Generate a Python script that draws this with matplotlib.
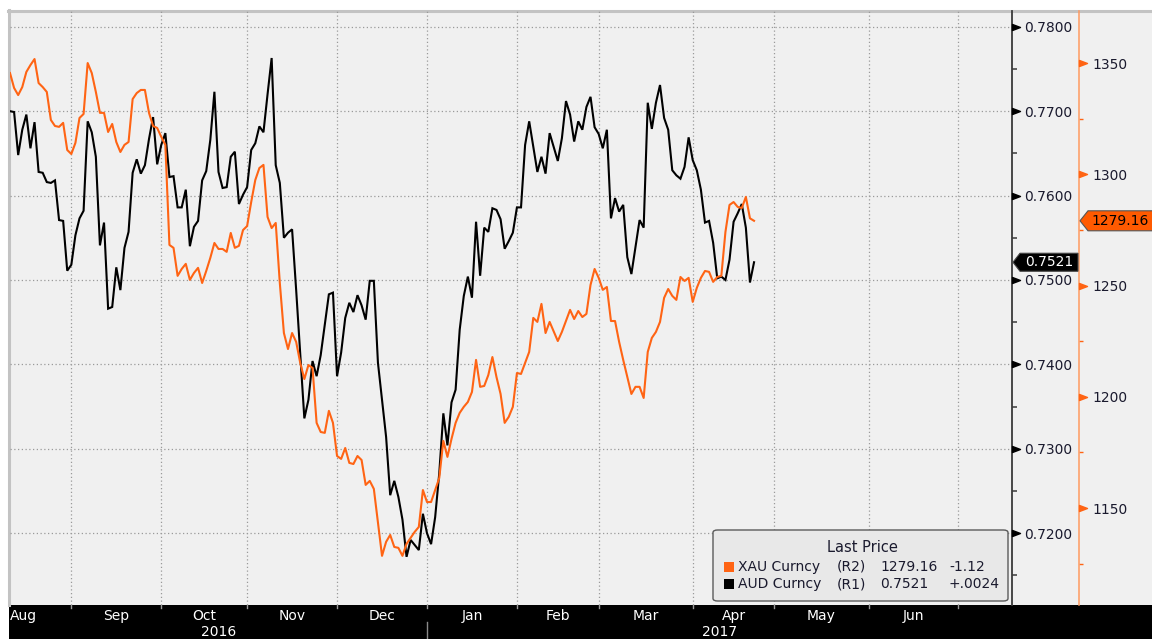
import numpy as np
import matplotlib
matplotlib.use("Agg")
import matplotlib.pyplot as plt
from matplotlib.patches import Rectangle, Polygon, FancyBboxPatch
from matplotlib.lines import Line2D
from matplotlib.path import Path
from matplotlib.transforms import blended_transform_factory

# ---------------- data ----------------
START = "2016-08-11"          # business-day index 0
AXIS_END = "2017-07-20"       # right edge of the time axis

# AUD Curncy (R1) - business-day index from START and close values
aud_day = (list(range(0, 71)) + list(range(72, 77)) +
           list(range(78, 133)) + list(range(134, 183)))
aud_val = [
    0.7700, 0.7699, 0.7648, 0.7678, 0.7696, 0.7656, 0.7687, 0.7628, 0.7627, 0.7616,
    0.7615, 0.7618, 0.7571, 0.7570, 0.7511, 0.7518, 0.7553, 0.7573, 0.7582, 0.7688,
    0.7675, 0.7646, 0.7541, 0.7568, 0.7466, 0.7468, 0.7515, 0.7488, 0.7538, 0.7557,
    0.7627, 0.7643, 0.7626, 0.7636, 0.7667, 0.7693, 0.7637, 0.7660, 0.7674, 0.7622,
    0.7623, 0.7586, 0.7586, 0.7607, 0.7540, 0.7563, 0.7570, 0.7618, 0.7629, 0.7666,
    0.7723, 0.7628, 0.7609, 0.7610, 0.7646, 0.7652, 0.7590, 0.7601, 0.7610, 0.7654,
    0.7662, 0.7682, 0.7675, 0.7720, 0.7763, 0.7636, 0.7615, 0.7550, 0.7556, 0.7560,
    0.7488,
    0.7336, 0.7358, 0.7404, 0.7386, 0.7411,
    0.7483, 0.7485, 0.7386, 0.7414, 0.7455, 0.7473, 0.7462, 0.7482, 0.7470, 0.7453,
    0.7499, 0.7499, 0.7402, 0.7358, 0.7314, 0.7245, 0.7262, 0.7243, 0.7216, 0.7172,
    0.7192, 0.7186, 0.7180, 0.7223, 0.7200, 0.7187, 0.7219, 0.7271, 0.7342, 0.7304,
    0.7355, 0.7370, 0.7441, 0.7481, 0.7504, 0.7479, 0.7569, 0.7505, 0.7562, 0.7557,
    0.7585, 0.7583, 0.7572, 0.7537, 0.7546, 0.7556, 0.7586, 0.7586, 0.7660, 0.7688,
    0.7658, 0.7628, 0.7646, 0.7626, 0.7674,
    0.7641, 0.7668, 0.7712, 0.7696, 0.7664, 0.7688, 0.7678, 0.7705, 0.7717, 0.7681,
    0.7673, 0.7656, 0.7678, 0.7573, 0.7597, 0.7581, 0.7589, 0.7527, 0.7507, 0.7539,
    0.7571, 0.7562, 0.7710, 0.7679, 0.7710, 0.7731, 0.7692, 0.7678, 0.7630, 0.7624,
    0.7620, 0.7634, 0.7669, 0.7642, 0.7630, 0.7607, 0.7568, 0.7570, 0.7544, 0.7502,
    0.7504, 0.7500, 0.7524, 0.7569, 0.7579, 0.7590, 0.7562, 0.7497, 0.7521,
]

# XAU Curncy (R2)
xau_day = list(range(0, 133)) + list(range(134, 183))
xau_val = [
    1345.6, 1338.9, 1335.7, 1339.3, 1346.1, 1349.2, 1351.9, 1341.1, 1339.3, 1337.1,
    1324.5, 1321.8, 1321.4, 1323.2, 1311.0, 1309.2, 1314.2, 1325.4, 1327.2, 1350.1,
    1345.6, 1337.1, 1327.7, 1327.7, 1319.1, 1322.7, 1314.6, 1310.1, 1313.3, 1314.6,
    1333.9, 1336.6, 1338.0, 1338.0, 1327.7, 1321.8, 1320.9, 1316.9, 1313.3, 1268.3,
    1267.0, 1254.4, 1257.5, 1259.8, 1252.6, 1255.7, 1258.0, 1251.2, 1256.6, 1262.5,
    1269.2, 1266.5, 1266.5, 1265.2, 1273.7, 1267.0, 1267.9, 1275.0, 1276.8, 1287.6,
    1297.5, 1302.9, 1304.3, 1280.9, 1275.9, 1278.2, 1251.2, 1228.7, 1221.5, 1228.7,
    1224.7, 1215.2, 1208.0, 1214.3, 1213.0, 1188.3, 1184.2, 1183.8, 1193.7, 1188.3,
    1173.4, 1172.1, 1177.0, 1170.3, 1169.8, 1173.4, 1171.6, 1160.4, 1162.2, 1158.6,
    1143.7, 1128.5, 1134.8, 1137.9, 1132.5, 1132.1, 1128.5, 1133.9, 1136.6, 1139.3,
    1141.5, 1158.1, 1152.7, 1152.7, 1158.1, 1163.5, 1180.2, 1173.0, 1181.1, 1188.3,
    1192.8, 1195.5, 1197.7, 1202.2, 1216.6, 1204.5, 1204.9, 1209.8, 1217.9, 1208.9,
    1201.3, 1188.3, 1191.0, 1195.5, 1210.7, 1210.3, 1215.2, 1220.2, 1235.5, 1233.7,
    1241.8, 1228.7, 1233.7,
    1225.1, 1229.2, 1234.1, 1239.1, 1235.0, 1238.6, 1235.9,
    1237.3, 1250.3, 1257.5, 1253.5, 1248.1, 1249.4, 1234.1, 1234.1, 1224.7, 1216.6,
    1208.9, 1201.3, 1204.5, 1204.5, 1199.5, 1220.2, 1226.5, 1229.2, 1233.7, 1244.5,
    1248.5, 1245.4, 1243.6, 1253.9, 1252.1, 1253.5, 1242.7, 1249.0, 1253.5, 1256.6,
    1256.2, 1251.7, 1253.9, 1254.4, 1274.1, 1286.3, 1287.6, 1285.4, 1284.9, 1289.9,
    1280.28, 1279.16,
]

months = ["2016-08", "2016-09", "2016-10", "2016-11", "2016-12", "2017-01",
          "2017-02", "2017-03", "2017-04", "2017-05", "2017-06", "2017-07"]
month_labels = ["Aug", "Sep", "Oct", "Nov", "Dec", "Jan", "Feb", "Mar", "Apr", "May", "Jun"]
years = ["2016", "2017"]

aud_ticks = [0.7200, 0.7300, 0.7400, 0.7500, 0.7600, 0.7700, 0.7800]
aud_minor = [0.7150, 0.7250, 0.7350, 0.7450, 0.7550, 0.7650, 0.7750]
xau_ticks = [1150, 1200, 1250, 1300, 1350]
xau_minor = [1125, 1175, 1225, 1275, 1325]
aud_lim = (0.71149, 0.78187)
xau_lim = (1106.4, 1373.5)

# ---------------- style ----------------
ORANGE = "#ff6414"
TXT = "#1a1a2e"
GRID = "#9a9a9a"
plt.rcParams["font.family"] = ["DejaVu Sans"]

W, H = 1152, 639
fig = plt.figure(figsize=(W / 100, H / 100), dpi=100)
fig.patch.set_facecolor("white")


def fx(x):
    return x / W


def fy(y):
    return 1 - y / H


# backgrounds
fig.patches.append(Rectangle((fx(9), fy(605)), 1 - fx(9), fy(11) - fy(605),
                             transform=fig.transFigure, facecolor="#f0f0f0",
                             edgecolor="none", zorder=-2))
fig.patches.append(Rectangle((fx(9), 0), 1 - fx(9), fy(605),
                             transform=fig.transFigure, facecolor="black",
                             edgecolor="none", zorder=-2))
fig.add_artist(Line2D([fx(8), 1], [fy(11), fy(11)], color="#c3c3c3", lw=2.2,
                      transform=fig.transFigure, zorder=-1))
fig.add_artist(Line2D([fx(9), fx(9)], [fy(10), fy(605)], color="#c3c3c3", lw=2.2,
                      transform=fig.transFigure, zorder=-1))

ax = fig.add_axes([fx(10), fy(605), fx(1012) - fx(10), fy(11) - fy(605)])
ax.patch.set_visible(False)
ax2 = ax.twinx()
ax2.patch.set_visible(False)

# x scale: business-day index
month_idx = [int(np.busday_count(START, m + "-01")) for m in months]
x_end = float(np.busday_count(START, AXIS_END))
ax.set_xlim(0, x_end + 0.1)

ax.plot(aud_day, aud_val, color="black", lw=1.5, solid_joinstyle="miter", zorder=3)
ax2.plot(xau_day, xau_val, color=ORANGE, lw=1.5, zorder=3)

ax.set_ylim(*aud_lim)
ax2.set_ylim(*xau_lim)

for a in (ax, ax2):
    for s in ("top", "bottom", "left"):
        a.spines[s].set_visible(False)
ax.spines["right"].set_color("#3a3a3a")
ax.spines["right"].set_linewidth(1.3)
ax2.spines["right"].set_position(("outward", 67 * 0.72))
ax2.spines["right"].set_color("#ff9a60")
ax2.spines["right"].set_linewidth(1.1)

# grid
ax.set_xticks(month_idx[1:])
ax.tick_params(axis="x", length=0, labelbottom=False)
ax.set_yticks(aud_ticks)
ax.set_yticklabels([f"{v:.4f}" for v in aud_ticks])
ax.set_yticks(aud_minor, minor=True)
ax.grid(True, which="major", color=GRID, ls=(0, (1, 2)), lw=0.9)
ax.yaxis.tick_right()
ax.tick_params(axis="y", which="major", length=0, pad=8.8, labelsize=10, labelcolor=TXT)
ax.tick_params(axis="y", which="minor", length=3.8, width=1.1, color="#3a3a3a", direction="out")

ax2.set_yticks(xau_ticks)
ax2.set_yticklabels([f"{v:d}" for v in xau_ticks])
ax2.set_yticks(xau_minor, minor=True)
ax2.tick_params(axis="y", which="major", length=0, pad=9.4, labelsize=10, labelcolor=TXT)
ax2.tick_params(axis="y", which="minor", length=3.2, width=1.0, color=ORANGE, direction="out")

# triangular major tick markers
tri = Path([(0, -0.38), (1.0, 0), (0, 0.38), (0, -0.38)],
           [Path.MOVETO, Path.LINETO, Path.LINETO, Path.CLOSEPOLY])
ax.plot([1.0] * len(aud_ticks), aud_ticks, ls="none", marker=tri, ms=11.5,
        color="black", transform=ax.get_yaxis_transform(), clip_on=False, zorder=5)
off = 1 + 67 / (1012 - 10)
ax2.plot([off] * len(xau_ticks), xau_ticks, ls="none", marker=tri, ms=11.5,
         color=ORANGE, transform=ax2.get_yaxis_transform(), clip_on=False, zorder=5)

# ---------------- bottom time axis ----------------
bt = blended_transform_factory(ax.transData, fig.transFigure)
for i, lab in enumerate(month_labels):
    a0, a1 = month_idx[i], month_idx[i + 1]
    if a0 < 0:
        fig.text(fx(10), fy(620), lab, color="white", fontsize=10, ha="left", va="baseline")
    else:
        ax.text((a0 + a1) / 2, fy(620), lab, color="white", fontsize=10, ha="center",
                va="baseline", transform=bt, clip_on=False)
for m in month_idx[1:]:
    ax.add_line(Line2D([m, m], [fy(605), fy(608)], color="#9a9a9a", lw=1, transform=bt,
                       clip_on=False))
jan = month_idx[5]
ax.add_line(Line2D([jan, jan], [fy(622), 0], color="#8a8a8a", lw=1, transform=bt, clip_on=False))
ax.text(jan / 2, fy(625), years[0], color="white", fontsize=10, ha="center", va="top",
        transform=bt, clip_on=False)
ax.text((jan + x_end) / 2, fy(625), years[1], color="white", fontsize=10, ha="center",
        va="top", transform=bt, clip_on=False)

# ---------------- last price tags ----------------
inv = fig.transFigure.inverted()
ya = inv.transform(ax.transData.transform((0, aud_val[-1])))[1]
yx = inv.transform(ax2.transData.transform((0, xau_val[-1])))[1]
h1 = 9 / H
fig.patches.append(Polygon([(fx(1013), ya), (fx(1020), ya + h1), (fx(1078), ya + h1),
                            (fx(1078), ya - h1), (fx(1020), ya - h1)], closed=True,
                           transform=fig.transFigure, facecolor="black", edgecolor="#444",
                           lw=0.8, zorder=6))
fig.text(fx(1049), ya, f"{aud_val[-1]:.4f}", color="white", fontsize=10, ha="center",
         va="center", zorder=7)
h2 = 10 / H
fig.patches.append(Polygon([(fx(1080), yx), (fx(1088), yx + h2), (1.01, yx + h2),
                            (1.01, yx - h2), (fx(1088), yx - h2)], closed=True,
                           transform=fig.transFigure, facecolor="#ff5a00", edgecolor="#555",
                           lw=0.8, zorder=6))
fig.text(fx(1120), yx, f"{xau_val[-1]:.2f}", color="black", fontsize=10, ha="center",
         va="center", zorder=7)

# ---------------- legend ----------------
fig.patches.append(FancyBboxPatch((fx(713), fy(601)), fx(1008) - fx(713), fy(530) - fy(601),
                                  boxstyle="round,pad=0,rounding_size=0.004",
                                  transform=fig.transFigure, facecolor="#e8e8e8",
                                  edgecolor="#5a5a5a", lw=1.0, zorder=6))
fig.text(fx(862), fy(548), "Last Price", fontsize=10.5, color=TXT, ha="center", va="center",
         zorder=7)
xau_chg = xau_val[-1] - xau_val[-2]
aud_chg = aud_val[-1] - aud_val[-2]
rows = [
    (ORANGE, "XAU Curncy", "(R2)", f"{xau_val[-1]:.2f}", f"{xau_chg:+.2f}".replace("+", "+")),
    ("black", "AUD Curncy", "(R1)", f"{aud_val[-1]:.4f}",
     ("+" if aud_chg >= 0 else "-") + f"{abs(aud_chg):.4f}"[1:]),
]
for k, (col, name, ax_lab, last, chg) in enumerate(rows):
    yy = 567 + 17 * k
    fig.patches.append(Rectangle((fx(724), fy(yy + 5)), fx(10), 10 / H, transform=fig.transFigure,
                                 facecolor=col, edgecolor="none", zorder=7))
    for xp, s in ((738, name), (837, ax_lab), (880, last), (949, chg)):
        fig.text(fx(xp), fy(yy), s, fontsize=10, color=TXT, ha="left", va="center", zorder=7)

fig.savefig("out.png", dpi=100, facecolor=fig.get_facecolor())
